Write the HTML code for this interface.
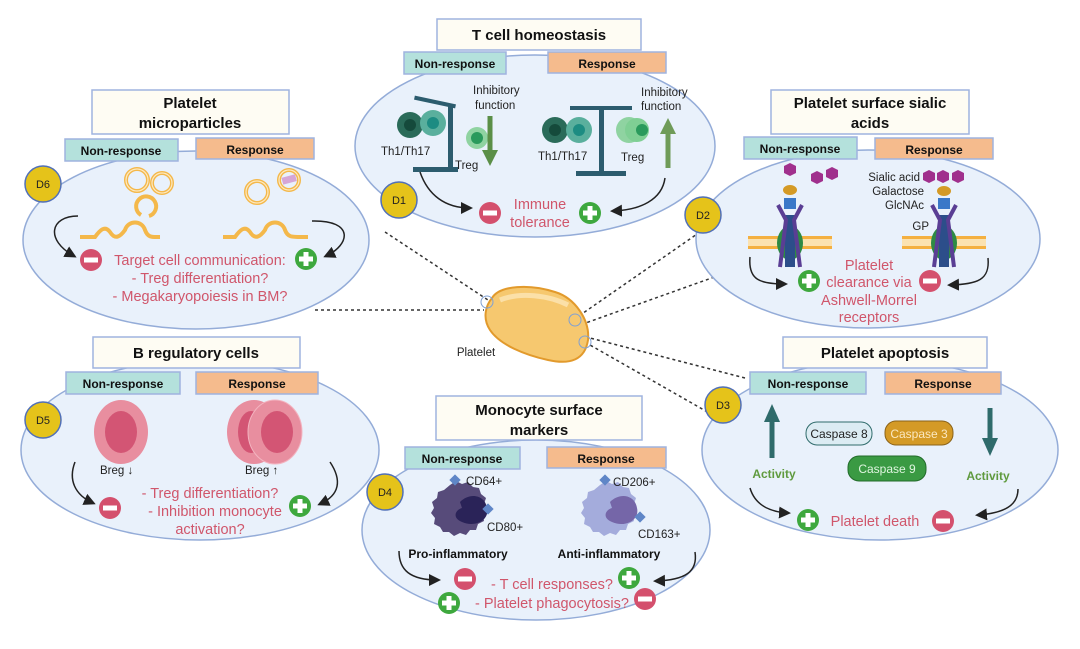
<!DOCTYPE html>
<html><head><meta charset="utf-8"><style>
html,body{margin:0;padding:0;background:#fff}
svg{display:block}
text{font-family:"Liberation Sans",sans-serif}
.t{font-weight:bold;font-size:15px;fill:#111;text-anchor:middle}
.l{font-weight:bold;font-size:12px;fill:#111;text-anchor:middle}
.r{font-size:14.5px;fill:#d0566b;text-anchor:middle}
.s{font-size:11.5px;fill:#222}
.ell{fill:#e9f1fb;stroke:#94acd8;stroke-width:1.5}
.tb{fill:#fefcf3;stroke:#9fb3df;stroke-width:1.5}
.nr{fill:#b4e1dc;stroke:#9fb3df;stroke-width:1.5}
.rs{fill:#f5bb8d;stroke:#9fb3df;stroke-width:1.5}
.dot{stroke:#333;stroke-width:1.5;stroke-dasharray:3 3;fill:none}
.arr{stroke:#222;stroke-width:1.5;fill:none}
.bd{fill:#e5c31a;stroke:#5170b8;stroke-width:1.5}
.bdt{font-size:11px;fill:#222;text-anchor:middle}
</style></head><body>
<svg width="1080" height="649" viewBox="0 0 1080 649" xmlns="http://www.w3.org/2000/svg">
<defs>
<g id="mi"><circle r="11" fill="#d4506d"/><rect x="-7" y="-2.5" width="14" height="5" fill="#fff"/></g>
<g id="pl"><circle r="11" fill="#3ea83e"/><rect x="-7" y="-2.5" width="14" height="5" fill="#fff"/><rect x="-2.5" y="-7" width="5" height="14" fill="#fff"/></g>
<marker id="ah" markerWidth="8" markerHeight="8" refX="6" refY="4" orient="auto"><path d="M0,0 L8,4 L0,8 z" fill="#222"/></marker>
</defs>

<path class="dot" d="M385,232 L488,300"/>
<path class="dot" d="M315,310 L484,310"/>
<path class="dot" d="M700,232 L576,318"/>
<path class="dot" d="M720,275 L580,325"/>
<path class="dot" d="M745,378 L590,338"/>
<path class="dot" d="M718,418 L590,345"/>

<ellipse class="ell" cx="196" cy="240" rx="173" ry="89"/>
<ellipse class="ell" cx="535" cy="146" rx="180" ry="91"/>
<ellipse class="ell" cx="868" cy="239" rx="172" ry="89"/>
<ellipse class="ell" cx="200" cy="450" rx="179" ry="90"/>
<ellipse class="ell" cx="536" cy="530" rx="174" ry="90"/>
<ellipse class="ell" cx="880" cy="450" rx="178" ry="90"/>

<path d="M492,298 C500,285 530,284 555,292 C575,298 590,320 588,340 C585,360 570,365 548,360 C525,355 500,345 490,330 C482,318 486,305 492,298 Z" fill="#f6c86f" stroke="#e29a2c" stroke-width="2"/>
<path d="M500,300 C520,292 548,295 568,305" stroke="#fbe0a8" stroke-width="5" fill="none"/>
<circle cx="487" cy="302" r="6" fill="none" stroke="#7fa0d4"/>
<circle cx="575" cy="320" r="6" fill="none" stroke="#7fa0d4"/>
<circle cx="585" cy="342" r="6" fill="none" stroke="#7fa0d4"/>
<text x="476" y="356" class="s" font-size="13" text-anchor="middle">Platelet</text>

<!-- D6 -->
<rect class="tb" x="92" y="90" width="197" height="44"/>
<text class="t" x="190" y="108">Platelet</text><text class="t" x="190" y="128">microparticles</text>
<rect class="nr" x="65" y="139" width="113" height="22"/><text class="l" x="121" y="155">Non-response</text>
<rect class="rs" x="196" y="138" width="118" height="21"/><text class="l" x="255" y="154">Response</text>
<g fill="none" stroke="#f4b84a" stroke-width="4">
<circle cx="137" cy="180" r="11"/><circle cx="162" cy="183" r="10"/><path d="M141,215 A10,10 0 1,1 149,216"/>
<circle cx="257" cy="192" r="11"/><circle cx="289" cy="180" r="10"/>
<path d="M80,237 L95,237 C100,230 105,225 110,232 C115,240 120,237 125,230 C128,220 142,220 145,230 C148,238 152,237 160,237"/>
<path d="M223,237 L235,237 C240,230 245,225 250,232 C255,240 260,237 265,230 C268,220 282,220 285,230 C288,238 292,237 308,237"/>
</g>
<g fill="none" stroke="#fde9c0" stroke-width="1.2">
<circle cx="137" cy="180" r="11"/><circle cx="162" cy="183" r="10"/><circle cx="257" cy="192" r="11"/><circle cx="289" cy="180" r="10"/>
</g>
<rect x="282" y="176" width="14" height="7" fill="#d6a6d6" transform="rotate(-15 289 179)"/>
<circle class="bd" cx="43" cy="184" r="18"/><text class="bdt" x="43" y="188">D6</text>
<path class="arr" marker-end="url(#ah)" d="M78,216 C50,216 45,240 74,256"/>
<path class="arr" marker-end="url(#ah)" d="M312,221 C355,220 350,245 326,256"/>
<use href="#mi" x="91" y="260"/><use href="#pl" x="306" y="259"/>
<text class="r" x="200" y="265">Target cell communication:</text>
<text class="r" x="200" y="283">- Treg differentiation?</text>
<text class="r" x="200" y="301">- Megakaryopoiesis in BM?</text>

<!-- D1 -->
<rect class="tb" x="437" y="19" width="204" height="31"/><text class="t" x="539" y="40">T cell homeostasis</text>
<rect class="nr" x="404" y="52" width="102" height="22"/><text class="l" x="455" y="68">Non-response</text>
<rect class="rs" x="548" y="52" width="118" height="21"/><text class="l" x="607" y="68">Response</text>
<g fill="#2c5c6e">
<rect x="448" y="105" width="5" height="65"/><rect x="413" y="167" width="45" height="5"/><rect x="414" y="100" width="42" height="4" transform="rotate(12 435 102)"/>
<rect x="599" y="110" width="5" height="65"/><rect x="576" y="171" width="50" height="5"/><rect x="570" y="106" width="62" height="4"/>
</g>
<circle cx="410" cy="125" r="13" fill="#2a6b59"/><circle cx="410" cy="125" r="6" fill="#154a3b"/>
<circle cx="433" cy="123" r="13" fill="#5aaf9d"/><circle cx="433" cy="123" r="6" fill="#1d8c82"/>
<circle cx="477" cy="138" r="11" fill="#8fd3a1"/><circle cx="477" cy="138" r="6" fill="#2a9a5c"/>
<circle cx="555" cy="130" r="13" fill="#2a6b59"/><circle cx="555" cy="130" r="6" fill="#154a3b"/>
<circle cx="579" cy="130" r="13" fill="#5aaf9d"/><circle cx="579" cy="130" r="6" fill="#1d8c82"/>
<circle cx="629" cy="130" r="13" fill="#8fd3a1"/><circle cx="637" cy="130" r="12" fill="#7fcf94"/><circle cx="642" cy="130" r="6" fill="#2a9a5c"/>
<text class="s" x="381" y="155" font-size="11">Th1/Th17</text><text class="s" x="455" y="169" font-size="11">Treg</text>
<text class="s" x="473" y="94" font-size="11">Inhibitory</text><text class="s" x="475" y="109" font-size="11">function</text>
<text class="s" x="538" y="160" font-size="11">Th1/Th17</text><text class="s" x="621" y="161" font-size="11">Treg</text>
<text class="s" x="641" y="96" font-size="11">Inhibitory</text><text class="s" x="641" y="110" font-size="11">function</text>
<path d="M490,116 L490,152" stroke="#5b8f47" stroke-width="5"/><path d="M482,150 L498,150 L490,166 z" fill="#5b8f47"/>
<path d="M668,168 L668,132" stroke="#6f9b58" stroke-width="5"/><path d="M660,134 L676,134 L668,118 z" fill="#6f9b58"/>
<path class="arr" marker-end="url(#ah)" d="M420,172 C428,195 445,208 470,208"/>
<path class="arr" marker-end="url(#ah)" d="M665,178 C662,200 640,210 613,211"/>
<use href="#mi" x="490" y="213"/><use href="#pl" x="590" y="213"/>
<text class="r" x="540" y="209">Immune</text><text class="r" x="540" y="227">tolerance</text>
<circle class="bd" cx="399" cy="200" r="18"/><text class="bdt" x="399" y="204">D1</text>

<!-- D2 -->
<rect class="tb" x="771" y="90" width="198" height="44"/>
<text class="t" x="870" y="108">Platelet surface sialic</text><text class="t" x="870" y="128">acids</text>
<rect class="nr" x="744" y="137" width="113" height="22"/><text class="l" x="800" y="153">Non-response</text>
<rect class="rs" x="875" y="138" width="118" height="21"/><text class="l" x="934" y="154">Response</text>
<g fill="#a0308d">
<polygon points="790,163 796,166 796,173 790,176 784,173 784,166"/>
<polygon points="817,171 823,174 823,181 817,184 811,181 811,174"/>
<polygon points="832,167 838,170 838,177 832,180 826,177 826,170"/>
<polygon points="929,170 935,173 935,180 929,183 923,180 923,173"/>
<polygon points="943,170 949,173 949,180 943,183 937,180 937,173"/>
<polygon points="958,170 964,173 964,180 958,183 952,180 952,173"/>
</g>
<text class="s" x="920" y="181" font-size="11" text-anchor="end">Sialic acid</text>
<text class="s" x="924" y="195" font-size="11" text-anchor="end">Galactose</text>
<text class="s" x="924" y="209" font-size="11" text-anchor="end">GlcNAc</text>
<text class="s" x="929" y="230" font-size="11" text-anchor="end">GP</text>
<g>
<rect x="748" y="237" width="84" height="12" fill="#fbe2b0"/><rect x="748" y="236" width="84" height="3" fill="#f4b040"/><rect x="748" y="246" width="84" height="3" fill="#f4b040"/>
<rect x="902" y="237" width="84" height="12" fill="#fbe2b0"/><rect x="902" y="236" width="84" height="3" fill="#f4b040"/><rect x="902" y="246" width="84" height="3" fill="#f4b040"/>
<ellipse cx="790" cy="243" rx="13" ry="17" fill="#2e8a44"/><ellipse cx="944" cy="243" rx="13" ry="17" fill="#2e8a44"/>
<rect x="785" y="215" width="10" height="52" fill="#2c4e8a"/><rect x="939" y="215" width="10" height="52" fill="#2c4e8a"/>
<path d="M780,267 L786,220 L778,205 M800,267 L794,220 L802,205" stroke="#5a3e94" stroke-width="4" fill="none"/>
<path d="M934,267 L940,220 L932,205 M954,267 L948,220 L956,205" stroke="#5a3e94" stroke-width="4" fill="none"/>
<rect x="784" y="198" width="12" height="11" fill="#3a78c8"/><rect x="938" y="198" width="12" height="11" fill="#3a78c8"/>
<ellipse cx="790" cy="190" rx="7" ry="5" fill="#d49a26"/><ellipse cx="944" cy="191" rx="7" ry="5" fill="#d49a26"/>
</g>
<path class="arr" marker-end="url(#ah)" d="M750,257 C748,280 760,284 785,284"/>
<path class="arr" marker-end="url(#ah)" d="M988,258 C990,280 978,284 950,285"/>
<use href="#pl" x="809" y="281"/><use href="#mi" x="930" y="281"/>
<text class="r" x="869" y="270">Platelet</text><text class="r" x="869" y="287">clearance via</text>
<text class="r" x="869" y="305">Ashwell-Morrel</text><text class="r" x="869" y="322">receptors</text>
<circle class="bd" cx="703" cy="215" r="18"/><text class="bdt" x="703" y="219">D2</text>

<!-- D5 -->
<rect class="tb" x="93" y="337" width="207" height="31"/><text class="t" x="196" y="358">B regulatory cells</text>
<rect class="nr" x="66" y="372" width="114" height="22"/><text class="l" x="123" y="388">Non-response</text>
<rect class="rs" x="196" y="372" width="122" height="22"/><text class="l" x="257" y="388">Response</text>
<ellipse cx="121" cy="432" rx="27" ry="32" fill="#e88e9f"/><ellipse cx="121" cy="432" rx="16" ry="21" fill="#d35574"/>
<ellipse cx="254" cy="432" rx="27" ry="32" fill="#e88e9f"/><ellipse cx="251" cy="432" rx="13" ry="21" fill="#d35574"/>
<ellipse cx="275" cy="432" rx="27" ry="32" fill="#e88e9f" stroke="#f3b4c0"/><ellipse cx="277" cy="432" rx="16" ry="21" fill="#d35574"/>
<text class="s" x="100" y="474" font-size="12">Breg ↓</text><text class="s" x="245" y="474" font-size="12">Breg ↑</text>
<path class="arr" marker-end="url(#ah)" d="M75,462 C68,480 75,495 93,503"/>
<path class="arr" marker-end="url(#ah)" d="M330,462 C342,480 340,495 320,504"/>
<use href="#mi" x="110" y="508"/><use href="#pl" x="300" y="506"/>
<text class="r" x="210" y="498">- Treg differentiation?</text>
<text class="r" x="215" y="516">- Inhibition monocyte</text>
<text class="r" x="210" y="534">activation?</text>
<circle class="bd" cx="43" cy="420" r="18"/><text class="bdt" x="43" y="424">D5</text>

<!-- D4 -->
<rect class="tb" x="436" y="396" width="206" height="44"/>
<text class="t" x="539" y="415">Monocyte surface</text><text class="t" x="539" y="435">markers</text>
<rect class="nr" x="405" y="447" width="115" height="22"/><text class="l" x="462" y="463">Non-response</text>
<rect class="rs" x="547" y="447" width="119" height="21"/><text class="l" x="606" y="463">Response</text>
<path d="M450,485 l6,-4 6,3 6,-2 5,5 6,1 2,6 5,4 -2,6 3,6 -4,5 1,6 -6,3 -2,6 -6,0 -4,5 -6,-2 -6,3 -5,-4 -6,0 -3,-5 -6,-3 1,-6 -4,-5 3,-5 -2,-6 5,-4 1,-6 6,-2 z" fill="#574b7a"/>
<path d="M460,502 C470,492 485,495 487,508 C490,520 475,528 462,522 C452,518 455,510 462,508 z" fill="#2a2358"/>
<path d="M600,485 l6,-4 6,3 6,-2 5,5 6,1 2,6 5,4 -2,6 3,6 -4,5 1,6 -6,3 -2,6 -6,0 -4,5 -6,-2 -6,3 -5,-4 -6,0 -3,-5 -6,-3 1,-6 -4,-5 3,-5 -2,-6 5,-4 1,-6 6,-2 z" fill="#a4acdc"/>
<path d="M610,502 C620,492 635,495 637,508 C640,520 625,528 612,522 C602,518 605,510 612,508 z" fill="#7566a8"/>
<g fill="#5f86c7">
<rect x="451" y="476" width="8" height="8" transform="rotate(45 455 480)"/>
<rect x="484" y="505" width="8" height="8" transform="rotate(45 488 509)"/>
<rect x="601" y="476" width="8" height="8" transform="rotate(45 605 480)"/>
<rect x="636" y="513" width="8" height="8" transform="rotate(45 640 517)"/>
</g>
<text class="s" x="466" y="485" font-size="12">CD64+</text><text class="s" x="487" y="531" font-size="12">CD80+</text>
<text class="s" x="613" y="486" font-size="12">CD206+</text><text class="s" x="638" y="538" font-size="12">CD163+</text>
<text class="l" x="458" y="558">Pro-inflammatory</text><text class="l" x="609" y="558">Anti-inflammatory</text>
<path class="arr" marker-end="url(#ah)" d="M399,551 C399,570 410,580 438,580"/>
<path class="arr" marker-end="url(#ah)" d="M695,552 C698,572 685,580 656,581"/>
<use href="#mi" x="465" y="579"/><use href="#pl" x="629" y="578"/>
<use href="#pl" x="449" y="603"/><use href="#mi" x="645" y="599"/>
<text class="r" x="552" y="589">- T cell responses?</text>
<text class="r" x="552" y="608">- Platelet phagocytosis?</text>
<circle class="bd" cx="385" cy="492" r="18"/><text class="bdt" x="385" y="496">D4</text>

<!-- D3 -->
<rect class="tb" x="783" y="337" width="204" height="31"/><text class="t" x="885" y="358">Platelet apoptosis</text>
<rect class="nr" x="750" y="372" width="116" height="22"/><text class="l" x="808" y="388">Non-response</text>
<rect class="rs" x="885" y="372" width="116" height="22"/><text class="l" x="943" y="388">Response</text>
<path d="M772,458 L772,420" stroke="#2f6b6b" stroke-width="5"/><path d="M764,422 L780,422 L772,404 z" fill="#2f6b6b"/>
<path d="M990,408 L990,440" stroke="#2f6b6b" stroke-width="5"/><path d="M982,438 L998,438 L990,456 z" fill="#2f6b6b"/>
<text x="774" y="478" font-size="12" font-weight="bold" fill="#5f9a3e" text-anchor="middle">Activity</text>
<text x="988" y="480" font-size="12" font-weight="bold" fill="#5f9a3e" text-anchor="middle">Activity</text>
<rect x="806" y="422" width="66" height="23" rx="11" fill="#dcecf3" stroke="#2f6b6b"/><text x="839" y="438" font-size="12" fill="#222" text-anchor="middle">Caspase 8</text>
<rect x="885" y="421" width="68" height="24" rx="11" fill="#d49a26" stroke="#8a6218"/><text x="919" y="438" font-size="12" fill="#fbe8c0" text-anchor="middle">Caspase 3</text>
<rect x="848" y="456" width="78" height="25" rx="11" fill="#3a9a43" stroke="#226b2a"/><text x="887" y="473" font-size="12" fill="#dff5df" text-anchor="middle">Caspase 9</text>
<path class="arr" marker-end="url(#ah)" d="M750,488 C755,505 770,512 788,513"/>
<path class="arr" marker-end="url(#ah)" d="M1018,489 C1018,505 1005,513 978,515"/>
<use href="#pl" x="808" y="520"/><use href="#mi" x="943" y="521"/>
<text class="r" x="875" y="526">Platelet death</text>
<circle class="bd" cx="723" cy="405" r="18"/><text class="bdt" x="723" y="409">D3</text>
</svg>
</body></html>
